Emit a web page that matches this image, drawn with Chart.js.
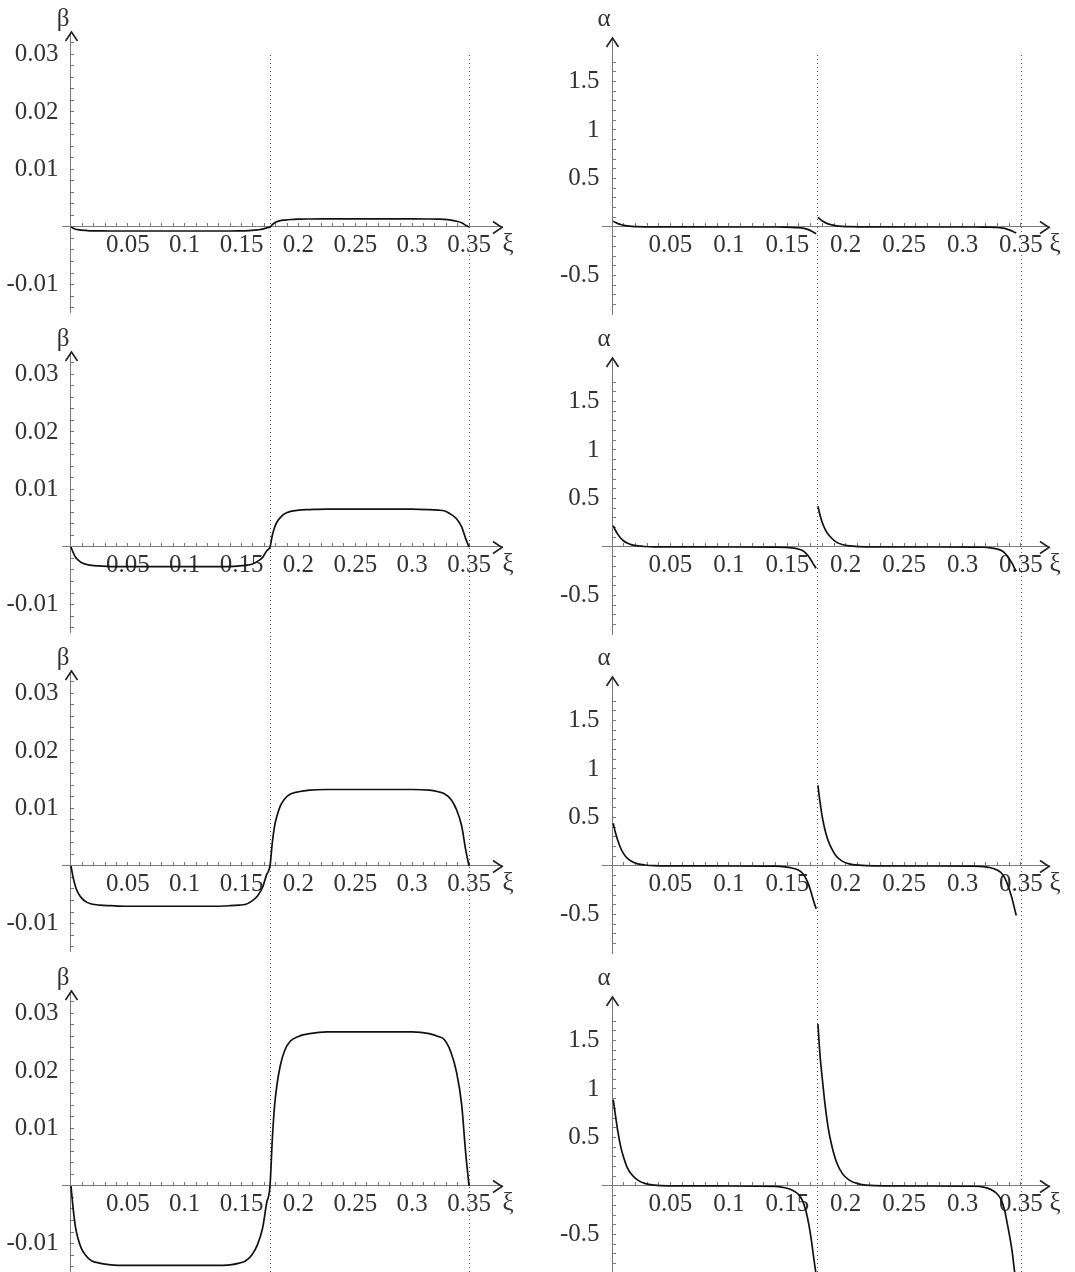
<!DOCTYPE html>
<html><head><meta charset="utf-8">
<script src="https://cdn.jsdelivr.net/npm/chart.js@4.4.1/dist/chart.umd.min.js"></script>
<style>
html,body{margin:0;padding:0;background:#fff;}
#wrap{position:relative;width:1075px;height:1272px;overflow:hidden;background:#fff;}
#wrap canvas{position:absolute;}
</style></head><body><div id="wrap"></div>
<script>
// ---------------- data ----------------
const xiBeta = [0, 0.002, 0.004, 0.006, 0.009, 0.013, 0.018, 0.025, 0.035, 0.05, 0.09, 0.125, 0.14, 0.148, 0.153, 0.159, 0.164, 0.1685, 0.172, 0.175,
  0.177, 0.179, 0.181, 0.184, 0.188, 0.193, 0.2, 0.21, 0.225, 0.265, 0.3, 0.315, 0.323, 0.328, 0.334, 0.339, 0.3435, 0.347, 0.35];

const betaRow1 = [0, -0.0002, -0.0004, -0.00045, -0.00055, -0.0006, -0.00066, -0.00068, -0.0007, -0.0007, -0.0007, -0.0007, -0.0007, -0.00068, -0.00066, -0.0006, -0.0005, -0.00037, -0.00015, 0,
  0.0004, 0.0007, 0.0009, 0.0011, 0.0012, 0.0013, 0.00136, 0.00139, 0.0014, 0.0014, 0.0014, 0.00139, 0.00136, 0.00133, 0.0012, 0.001, 0.00074, 0.0003, 0];
const betaRow2 = [0, -0.0010, -0.0018, -0.0022, -0.0027, -0.0030, -0.0032, -0.0033, -0.0034, -0.0034, -0.0034, -0.0034, -0.0034, -0.0033, -0.0032, -0.0030, -0.0025, -0.0018, -0.0007, 0,
  0.0020, 0.0034, 0.0043, 0.0051, 0.0058, 0.0062, 0.0064, 0.0065, 0.0066, 0.0066, 0.0066, 0.0065, 0.0064, 0.0063, 0.0057, 0.0049, 0.0035, 0.0015, 0];
const betaRow3 = [0, -0.0021, -0.0036, -0.0046, -0.0055, -0.0062, -0.0066, -0.0068, -0.0069, -0.0070, -0.0070, -0.0070, -0.0069, -0.0068, -0.0067, -0.0061, -0.0052, -0.0037, -0.0015, 0,
  0.0040, 0.0069, 0.0086, 0.0104, 0.0117, 0.0125, 0.0129, 0.0132, 0.0133, 0.0133, 0.0133, 0.0132, 0.0129, 0.0126, 0.0116, 0.0098, 0.0070, 0.0029, 0];
const betaRow4 = [0, -0.0041, -0.0072, -0.0090, -0.0108, -0.0121, -0.0130, -0.0134, -0.0137, -0.0138, -0.0138, -0.0138, -0.0137, -0.0134, -0.0131, -0.0120, -0.0102, -0.0073, -0.0030, 0,
  0.0080, 0.0139, 0.0174, 0.0209, 0.0236, 0.0252, 0.0260, 0.0265, 0.0268, 0.0268, 0.0268, 0.0265, 0.0260, 0.0255, 0.0233, 0.0198, 0.0142, 0.0059, 0];

const xiAlpha1 = [0.001, 0.003, 0.005, 0.0075, 0.01, 0.013, 0.017, 0.022, 0.028, 0.036, 0.05, 0.1, 0.14, 0.148, 0.154, 0.159, 0.163, 0.166, 0.1685, 0.1705, 0.1725, 0.1747];
const xiAlpha2 = [0.1762, 0.178, 0.18, 0.1825, 0.185, 0.188, 0.192, 0.197, 0.203, 0.211, 0.225, 0.27, 0.31, 0.318, 0.324, 0.329, 0.333, 0.336, 0.3385, 0.3405, 0.3425, 0.3445, 0.346];

const alphaRow1a = [0.06, 0.045, 0.035, 0.025, 0.017, 0.011, 0.006, 0.003, 0.0013, 0.0004, 0.0001, 0, -0.0004, -0.0015, -0.0035, -0.007, -0.012, -0.02, -0.03, -0.042, -0.055, -0.07];
const alphaRow1b = [0.1, 0.08, 0.062, 0.045, 0.032, 0.022, 0.012, 0.006, 0.0028, 0.001, 0.0001, 0, -0.0002, -0.0008, -0.0022, -0.005, -0.009, -0.015, -0.024, -0.032, -0.042, -0.055, -0.06];
const alphaRow2a = [0.22, 0.17, 0.13, 0.09, 0.062, 0.04, 0.022, 0.011, 0.005, 0.0015, 0.0005, 0, -0.0012, -0.0045, -0.01, -0.02, -0.037, -0.065, -0.1, -0.14, -0.18, -0.22];
const alphaRow2b = [0.42, 0.33, 0.25, 0.18, 0.13, 0.09, 0.05, 0.025, 0.011, 0.004, 0.0005, 0, -0.0008, -0.003, -0.009, -0.019, -0.035, -0.06, -0.095, -0.13, -0.17, -0.22, -0.25];
const alphaRow3a = [0.44, 0.34, 0.26, 0.18, 0.125, 0.08, 0.045, 0.022, 0.01, 0.003, 0.001, 0, -0.0025, -0.009, -0.021, -0.04, -0.075, -0.13, -0.2, -0.275, -0.36, -0.44];
const alphaRow3b = [0.83, 0.66, 0.5, 0.36, 0.26, 0.18, 0.10, 0.05, 0.022, 0.008, 0.001, 0, -0.0015, -0.006, -0.018, -0.038, -0.07, -0.12, -0.19, -0.26, -0.34, -0.44, -0.51];
const alphaRow4a = [0.89, 0.72, 0.56, 0.40, 0.29, 0.19, 0.115, 0.06, 0.027, 0.009, 0.002, 0, -0.005, -0.018, -0.042, -0.08, -0.15, -0.26, -0.4, -0.55, -0.73, -0.92];
const alphaRow4b = [1.67, 1.35, 1.1, 0.82, 0.6, 0.42, 0.25, 0.13, 0.06, 0.022, 0.004, 0, -0.003, -0.012, -0.035, -0.075, -0.14, -0.25, -0.40, -0.53, -0.68, -0.88, -1.02];

const markerXi = [0.175, 0.35];

const xMajorValues = [0.05, 0.1, 0.15, 0.2, 0.25, 0.3, 0.35];
const xMajorLabels = ['0.05', '0.1', '0.15', '0.2', '0.25', '0.3', '0.35'];
const betaMajorValues = [0.03, 0.02, 0.01, -0.01];
const betaMajorLabels = ['0.03', '0.02', '0.01', '-0.01'];
const alphaMajorValues = [1.5, 1, 0.5, -0.5];
const alphaMajorLabels = ['1.5', '1', '0.5', '-0.5'];

const betaRows = [betaRow1, betaRow2, betaRow3, betaRow4];
const alphaRows = [[alphaRow1a, alphaRow1b], [alphaRow2a, alphaRow2b], [alphaRow3a, alphaRow3b], [alphaRow4a, alphaRow4b]];

// ---------------- rendering ----------------
const FONT = '"Liberation Serif", "DejaVu Serif", serif';
const FONT_SIZE = 25;
const rowTops = [0, 320, 639, 959];

function minorTicks(from, to, step) {
  const out = [];
  const n0 = Math.round(from / step), n1 = Math.round(to / step);
  for (let k = n0; k <= n1; k++) { if (k !== 0) out.push(+(k * step).toFixed(6)); }
  return out;
}
const xTicks = minorTicks(0.01, 0.35, 0.01);
const betaTicks = minorTicks(-0.014, 0.032, 0.002);
const alphaTicks = minorTicks(-0.8, 1.7, 0.1);

function labelFor(v, vals, labs) {
  for (let i = 0; i < vals.length; i++) if (Math.abs(v - vals[i]) < 1e-9) return labs[i];
  return '';
}

const decor = {
  id: 'decor',
  beforeDatasetsDraw(chart, args, opts) {
    const {ctx, scales: {x}} = chart;
    ctx.save();
    ctx.strokeStyle = '#555';
    ctx.lineWidth = 1;
    ctx.setLineDash([1, 3]);
    for (const m of markerXi) {
      const px = Math.round(x.getPixelForValue(m)) + 0.5;
      ctx.beginPath(); ctx.moveTo(px, opts.lineTop); ctx.lineTo(px, chart.height); ctx.stroke();
    }
    ctx.restore();
  },
  afterDraw(chart, args, opts) {
    const {ctx, chartArea, scales: {x, y}} = chart;
    const x0 = Math.round(x.getPixelForValue(0)) + 0.5;
    const y0 = Math.round(y.getPixelForValue(0)) + 0.5;
    ctx.save();
    ctx.strokeStyle = '#222'; ctx.lineWidth = 1.6; ctx.setLineDash([]);
    ctx.lineJoin = 'miter';
    const tx = chartArea.right;
    ctx.beginPath(); ctx.moveTo(tx - 9, y0 - 6); ctx.lineTo(tx, y0); ctx.lineTo(tx - 9, y0 + 6); ctx.stroke();
    const ty = chartArea.top;
    ctx.beginPath(); ctx.moveTo(x0 - 6, ty + 9); ctx.lineTo(x0, ty); ctx.lineTo(x0 + 6, ty + 9); ctx.stroke();
    ctx.fillStyle = '#333';
    ctx.font = FONT_SIZE + 'px ' + FONT;
    ctx.textAlign = 'center'; ctx.textBaseline = 'alphabetic';
    ctx.fillText(opts.yLabel, x0 - 8.5, opts.yLabelBase);
    ctx.textBaseline = 'middle';
    ctx.fillText('ξ', tx + 6, y0 + 17);
    ctx.restore();
  }
};

function makeChart(col, row) {
  const left = col === 0;
  const c = document.createElement('canvas');
  const W = left ? 535 : 540, H = 320;
  c.width = W; c.height = H;
  c.style.width = W + 'px'; c.style.height = H + 'px';
  c.style.left = (left ? 0 : 535) + 'px';
  c.style.top = rowTops[row] + 'px';
  document.getElementById('wrap').appendChild(c);

  let datasets;
  const lineStyle = {borderColor: '#111', borderWidth: 1.7, pointRadius: 0, fill: false, cubicInterpolationMode: 'monotone'};
  if (left) {
    datasets = [Object.assign({data: xiBeta.map((v, i) => ({x: v, y: betaRows[row][i]}))}, lineStyle)];
  } else {
    const [a, b] = alphaRows[row];
    datasets = [
      Object.assign({data: xiAlpha1.map((v, i) => ({x: v, y: a[i]}))}, lineStyle),
      Object.assign({data: xiAlpha2.map((v, i) => ({x: v, y: b[i]}))}, lineStyle)
    ];
  }

  const zeroFit = s => { if (s.isHorizontal()) s.height = 0; else s.width = 0; s.paddingLeft = s.paddingRight = s.paddingTop = s.paddingBottom = 0; };
  const tickFont = {family: FONT, size: FONT_SIZE};
  const gridOpt = {display: true, drawOnChartArea: false, drawTicks: true, tickLength: -4, tickColor: '#777', tickWidth: 1};
  const borderOpt = {display: true, color: '#7a7a7a', width: 1};

  new Chart(c, {
    type: 'line',
    data: {datasets},
    options: {
      responsive: false, animation: false, devicePixelRatio: 1,
      layout: {padding: left ? {left: 62, right: 33, top: 32, bottom: 8} : {left: 67, right: 26, top: 38, bottom: 6}},
      plugins: {legend: {display: false}, tooltip: {enabled: false},
        decor: {lineTop: row === 0 ? 55 : 0, yLabel: left ? 'β' : 'α', yLabelBase: 26}},
      scales: {
        x: {
          type: 'linear', min: left ? -0.0079 : -0.0086, max: left ? 0.379 : 0.374,
          position: {y: 0},
          afterBuildTicks: s => { s.ticks = xTicks.map(v => ({value: v})); },
          afterFit: zeroFit,
          grid: gridOpt, border: borderOpt,
          ticks: {autoSkip: false, maxRotation: 0, minRotation: 0, padding: 7, color: '#333', font: tickFont,
            callback: v => labelFor(v, xMajorValues, xMajorLabels)}
        },
        y: {
          type: 'linear', min: left ? -0.01478 : -0.897, max: left ? 0.0339 : 1.948,
          position: {x: 0},
          afterBuildTicks: s => { s.ticks = (left ? betaTicks : alphaTicks).map(v => ({value: v})); },
          afterFit: zeroFit,
          grid: gridOpt, border: borderOpt,
          ticks: {autoSkip: false, padding: 0, color: '#333', font: tickFont,
            callback: v => { const l = left ? labelFor(v, betaMajorValues, betaMajorLabels) : labelFor(v, alphaMajorValues, alphaMajorLabels); return l ? l + '\u2002' : ''; }}
        }
      }
    },
    plugins: [decor]
  });
}

for (let r = 0; r < 4; r++) { makeChart(0, r); makeChart(1, r); }
</script>
</body></html>
